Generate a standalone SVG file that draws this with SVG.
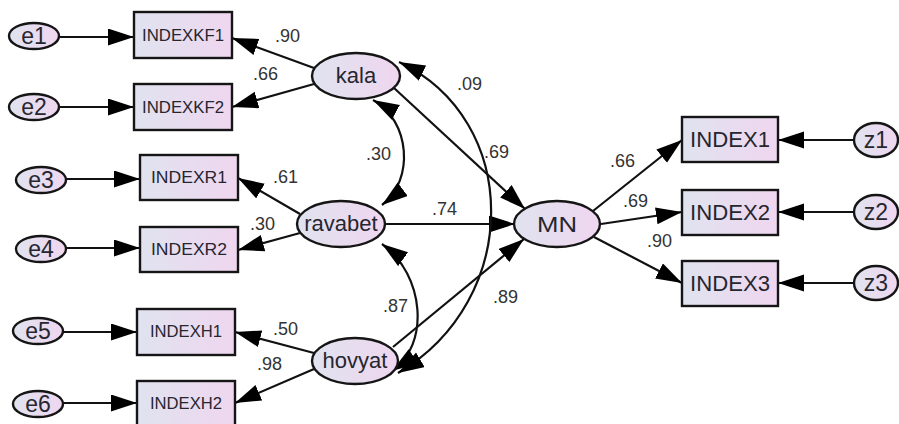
<svg xmlns="http://www.w3.org/2000/svg" width="899" height="424" viewBox="0 0 899 424">
<defs>
<linearGradient id="g" x1="0" y1="0" x2="1" y2="0">
<stop offset="0" stop-color="#e0e3ef"/>
<stop offset="1" stop-color="#efd6ef"/>
</linearGradient>
<marker id="ah" markerUnits="userSpaceOnUse" markerWidth="28" markerHeight="18" refX="26" refY="8.5" orient="auto-start-reverse">
<path d="M0,0 L26,8.5 L0,17 Z" fill="#000"/>
</marker>
<style>
.n{fill:url(#g);stroke:#151515;stroke-width:2.4}
.t{font-family:"Liberation Sans",Arial,sans-serif;fill:#26262f;text-anchor:middle}
.s{font-size:16px}
.b{font-size:22px}
.e{font-size:23px}
.l{font-family:"Liberation Sans",Arial,sans-serif;fill:#333;font-size:18px}
.c{fill:none;stroke:#111;stroke-width:2.2;marker-end:url(#ah)}
.d{fill:none;stroke:#111;stroke-width:2.2;marker-start:url(#ah);marker-end:url(#ah)}
</style>
</defs>
<rect width="899" height="424" fill="#fff"/>
<g id="connectors">
<line class="c" x1="59" y1="37" x2="134" y2="37"/>
<line class="c" x1="59" y1="107" x2="134" y2="107"/>
<line class="c" x1="66" y1="179" x2="140" y2="179"/>
<line class="c" x1="66" y1="248" x2="140" y2="248"/>
<line class="c" x1="63" y1="332" x2="137" y2="332"/>
<line class="c" x1="63" y1="403" x2="137" y2="403"/>
<line class="c" x1="314" y1="68" x2="232" y2="38"/>
<line class="c" x1="314" y1="84" x2="232" y2="107"/>
<line class="c" x1="300" y1="214" x2="238" y2="178"/>
<line class="c" x1="300" y1="233" x2="238" y2="250"/>
<line class="c" x1="314" y1="353" x2="235" y2="332"/>
<line class="c" x1="314" y1="369" x2="235" y2="403"/>
<line class="c" x1="394" y1="88" x2="525" y2="209"/>
<line class="c" x1="385" y1="224" x2="515" y2="224"/>
<line class="c" x1="393" y1="347" x2="524" y2="239"/>
<line class="c" x1="593" y1="211" x2="682" y2="140"/>
<line class="c" x1="601" y1="224" x2="682" y2="212"/>
<line class="c" x1="594" y1="237" x2="682" y2="283"/>
<line class="c" x1="854" y1="140" x2="778" y2="140"/>
<line class="c" x1="854" y1="212" x2="778" y2="212"/>
<line class="c" x1="854" y1="283" x2="778" y2="283"/>
<path class="d" d="M373,100 C410,120 415,180 382,205"/>
<path class="d" d="M382,244 C425,275 430,345 392,371"/>
<path class="d" d="M399,62 C522,120 522,300 398,373"/>
</g>
<g id="e1"><ellipse class="n" cx="34" cy="36" rx="25" ry="13"/><text class="t e" x="34" y="44">e1</text></g>
<g id="e2"><ellipse class="n" cx="34" cy="107" rx="25" ry="13"/><text class="t e" x="34" y="115">e2</text></g>
<g id="e3"><ellipse class="n" cx="41" cy="180" rx="25" ry="13"/><text class="t e" x="41" y="188">e3</text></g>
<g id="e4"><ellipse class="n" cx="41" cy="249" rx="25" ry="13"/><text class="t e" x="41" y="257">e4</text></g>
<g id="e5"><ellipse class="n" cx="38" cy="331" rx="25" ry="13"/><text class="t e" x="38" y="339">e5</text></g>
<g id="e6"><ellipse class="n" cx="38" cy="404" rx="25" ry="13"/><text class="t e" x="38" y="412">e6</text></g>
<g id="INDEXKF1"><rect class="n" x="134" y="12" width="98" height="46"/><text class="t s" x="183" y="41" textLength="82" lengthAdjust="spacingAndGlyphs">INDEXKF1</text></g>
<g id="INDEXKF2"><rect class="n" x="134" y="84" width="98" height="46"/><text class="t s" x="183" y="113" textLength="82" lengthAdjust="spacingAndGlyphs">INDEXKF2</text></g>
<g id="INDEXR1"><rect class="n" x="140" y="155" width="98" height="45"/><text class="t s" x="189" y="183" textLength="76" lengthAdjust="spacingAndGlyphs">INDEXR1</text></g>
<g id="INDEXR2"><rect class="n" x="140" y="227" width="98" height="45"/><text class="t s" x="189" y="255" textLength="76" lengthAdjust="spacingAndGlyphs">INDEXR2</text></g>
<g id="INDEXH1"><rect class="n" x="137" y="309" width="98" height="46"/><text class="t s" x="186" y="337" textLength="72" lengthAdjust="spacingAndGlyphs">INDEXH1</text></g>
<g id="INDEXH2"><rect class="n" x="137" y="381" width="98" height="45"/><text class="t s" x="186" y="409" textLength="72" lengthAdjust="spacingAndGlyphs">INDEXH2</text></g>
<g id="kala"><ellipse class="n" cx="356" cy="76" rx="44" ry="23"/><text class="t b" x="356" y="83">kala</text></g>
<g id="ravabet"><ellipse class="n" cx="341" cy="224" rx="44" ry="23"/><text class="t b" x="341" y="231">ravabet</text></g>
<g id="hovyat"><ellipse class="n" cx="355" cy="361" rx="43" ry="23"/><text class="t b" x="355" y="368">hovyat</text></g>
<g id="MN"><ellipse class="n" cx="557" cy="224" rx="43" ry="23"/><text class="t b" x="557" y="232" textLength="40" lengthAdjust="spacingAndGlyphs">MN</text></g>
<g id="INDEX1"><rect class="n" x="682" y="117" width="96" height="45"/><text class="t b" x="730" y="147" textLength="80" lengthAdjust="spacingAndGlyphs">INDEX1</text></g>
<g id="INDEX2"><rect class="n" x="682" y="190" width="96" height="45"/><text class="t b" x="730" y="220" textLength="80" lengthAdjust="spacingAndGlyphs">INDEX2</text></g>
<g id="INDEX3"><rect class="n" x="682" y="261" width="96" height="45"/><text class="t b" x="730" y="291" textLength="80" lengthAdjust="spacingAndGlyphs">INDEX3</text></g>
<g id="z1"><ellipse class="n" cx="876" cy="140" rx="22" ry="17"/><text class="t e" x="876" y="148">z1</text></g>
<g id="z2"><ellipse class="n" cx="876" cy="212" rx="22" ry="17"/><text class="t e" x="876" y="220">z2</text></g>
<g id="z3"><ellipse class="n" cx="876" cy="283" rx="22" ry="17"/><text class="t e" x="876" y="291">z3</text></g>
<g id="labels">
<text class="l" x="275" y="42">.90</text>
<text class="l" x="253" y="80">.66</text>
<text class="l" x="457" y="90">.09</text>
<text class="l" x="484" y="158">.69</text>
<text class="l" x="366" y="160">.30</text>
<text class="l" x="432" y="215">.74</text>
<text class="l" x="273" y="183">.61</text>
<text class="l" x="250" y="230">.30</text>
<text class="l" x="273" y="335">.50</text>
<text class="l" x="257" y="370">.98</text>
<text class="l" x="383" y="312">.87</text>
<text class="l" x="493" y="303">.89</text>
<text class="l" x="610" y="167">.66</text>
<text class="l" x="623" y="207">.69</text>
<text class="l" x="647" y="247">.90</text>
</g>
</svg>
